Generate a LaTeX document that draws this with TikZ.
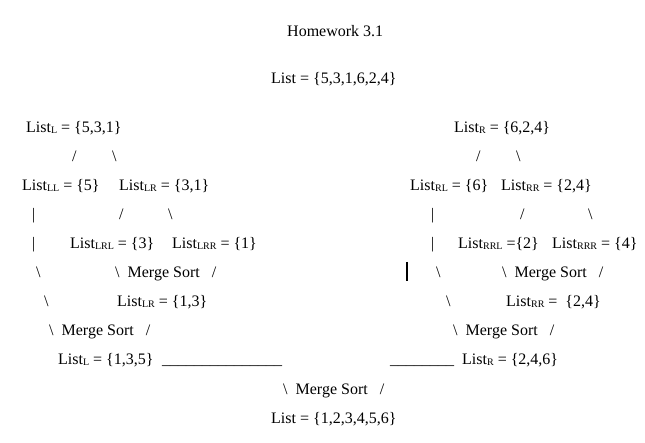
\documentclass[tikz,border=0pt]{standalone}
\usepackage{fontspec}
\setmainfont{Liberation Serif}
\newcommand{\sub}[1]{\raisebox{-1pt}{\fontsize{10}{10}\selectfont #1}}
\newcommand{\msort}{\textbackslash\hspace{8pt}Merge Sort\hspace{12pt}/}
\newcommand{\bs}{\textbackslash}
\tikzset{txt/.style={anchor=base west,inner sep=0pt,font=\fontsize{16}{19}\selectfont}}
\tikzset{bar/.style={line width=1.3pt}}
\begin{document}
\begin{tikzpicture}[x=1pt,y=1pt]
                \useasboundingbox (0,0) rectangle (645,-443);
                \node[txt] (title) at (287,-37) {Homework 3.1};
                \node[txt] (list) at (271,-84) {List = \{5,3,1,6,2,4\}};
                % left half
                \node[txt] (listL) at (26,-133) {List\sub{L} = \{5,3,1\}};
                \node[txt] (sL1) at (72,-162) {/};
                \node[txt] (sL2) at (112,-162) {\bs};
                \node[txt] (listLL) at (22,-191) {List\sub{LL} = \{5\}};
                \node[txt] (listLR) at (119,-191) {List\sub{LR} = \{3,1\}};
                \node[txt] (vLL1) at (32,-220) {|};
                \node[txt] (sLR1) at (119,-220) {/};
                \node[txt] (sLR2) at (168,-220) {\bs};
                \node[txt] (vLL2) at (32,-249) {|};
                \node[txt] (listLRL) at (70,-249) {List\sub{LRL} = \{3\}};
                \node[txt] (listLRR) at (172,-249) {List\sub{LRR} = \{1\}};
                \node[txt] (sLL1) at (36,-278) {\bs};
                \node[txt] (mLR) at (115,-278) {\msort};
                \node[txt] (sLL2) at (44,-307) {\bs};
                \node[txt] (sortLR) at (117,-307) {List\sub{LR} = \{1,3\}};
                \node[txt] (mL) at (49,-336) {\msort};
                \node[txt] (sortL) at (58,-365) {List\sub{L} = \{1,3,5\}};
                \node[txt] (lineL) at (162,-365) {\_\_\_\_\_\_\_\_\_\_\_\_\_\_\_};
                % right half
                \node[txt] (listR) at (454,-133) {List\sub{R} = \{6,2,4\}};
                \node[txt] (sR1) at (476,-162) {/};
                \node[txt] (sR2) at (516,-162) {\bs};
                \node[txt] (listRL) at (410,-191) {List\sub{RL} = \{6\}};
                \node[txt] (listRR) at (501,-191) {List\sub{RR} = \{2,4\}};
                \node[txt] (vRL1) at (431,-220) {|};
                \node[txt] (sRR1) at (520,-220) {/};
                \node[txt] (sRR2) at (588,-220) {\bs};
                \node[txt] (vRL2) at (431,-249) {|};
                \node[txt] (listRRL) at (458,-249) {List\sub{RRL} =\{2\}};
                \node[txt] (listRRR) at (552,-249) {List\sub{RRR} = \{4\}};
                \coordinate (barT) at (407,-262);
                \coordinate (barB) at (407,-281);
                \draw[bar] (barT) -- (barB);
                \node[txt] (sRL1) at (436,-278) {\bs};
                \node[txt] (mRR) at (502,-278) {\msort};
                \node[txt] (sRL2) at (446,-307) {\bs};
                \node[txt] (sortRR) at (506,-307) {List\sub{RR} = \ \{2,4\}};
                \node[txt] (mR) at (453,-336) {\msort};
                \node[txt] (lineR) at (390,-365) {\_\_\_\_\_\_\_\_};
                \node[txt] (sortR) at (462,-365) {List\sub{R} = \{2,4,6\}};
                % final merge
                \node[txt] (mAll) at (283,-394) {\msort};
                \node[txt] (sorted) at (271,-423) {List = \{1,2,3,4,5,6\}};
                \end{tikzpicture}
\end{document}
